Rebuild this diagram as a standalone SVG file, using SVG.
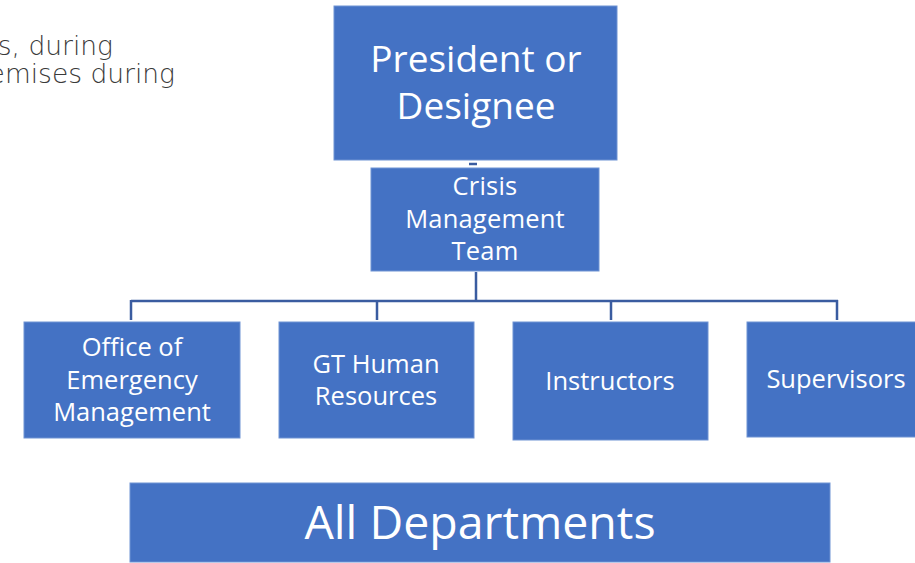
<svg xmlns="http://www.w3.org/2000/svg" width="915" height="563" viewBox="0 0 915 563">
  <style>
    .box { fill: #4472C4; stroke: #6F93D3; stroke-width: 1; }
    .lbl { fill: #FFFFFF; font-family: "Open Sans", "Noto Sans", "Liberation Sans", sans-serif; text-anchor: middle; }
    .conn { stroke: #3A5CA0; stroke-width: 2.5; fill: none; }
    .bg { fill: #3A3A3A; font-family: "DejaVu Sans", "Open Sans", sans-serif; font-weight: 200; font-size: 26.5px; text-anchor: end; }
  </style>
  <rect width="915" height="563" fill="#FFFFFF"/>

  <!-- partially covered slide text behind the chart -->
  <text class="bg" x="113" y="55">s, during</text>
  <text class="bg" x="175" y="83">emises during</text>

  <!-- connectors -->
  <g id="connectors">
    <line class="conn" x1="469" y1="164" x2="477" y2="164" stroke-width="1.5"/>
    <path class="conn" d="M476 272 V301 M131 301 H838 M131 300 V320 M377 300 V320 M611 300 V320 M837 300 V320"/>
  </g>

  <g id="president">
    <rect class="box" x="334" y="6" width="283" height="154"/>
    <text class="lbl" x="476" y="72" font-size="37">President or</text>
    <text class="lbl" x="476" y="119" font-size="37">Designee</text>
  </g>

  <g id="crisis-team">
    <rect class="box" x="371" y="168" width="228" height="103"/>
    <text class="lbl" x="485" y="195" font-size="25.5" letter-spacing="0.2">Crisis</text>
    <text class="lbl" x="485" y="228" font-size="25.5" letter-spacing="0.2">Management</text>
    <text class="lbl" x="485" y="260" font-size="25.5" letter-spacing="0.2">Team</text>
  </g>

  <g id="oem">
    <rect class="box" x="24" y="322" width="216" height="116"/>
    <text class="lbl" x="132" y="356" font-size="25.5">Office of</text>
    <text class="lbl" x="132" y="389" font-size="25.5">Emergency</text>
    <text class="lbl" x="132" y="421" font-size="25.5">Management</text>
  </g>

  <g id="hr">
    <rect class="box" x="279" y="322" width="195" height="116"/>
    <text class="lbl" x="376" y="373" font-size="25.5">GT Human</text>
    <text class="lbl" x="376" y="405" font-size="25.5">Resources</text>
  </g>

  <g id="instructors">
    <rect class="box" x="513" y="322" width="195" height="118"/>
    <text class="lbl" x="610" y="390" font-size="25.5">Instructors</text>
  </g>

  <g id="supervisors">
    <rect class="box" x="747" y="322" width="175" height="115"/>
    <text class="lbl" x="836" y="388" font-size="25.5">Supervisors</text>
  </g>

  <g id="all-departments">
    <rect class="box" x="130" y="483" width="700" height="79"/>
    <text class="lbl" x="480" y="539" font-size="46.5">All Departments</text>
  </g>
</svg>
